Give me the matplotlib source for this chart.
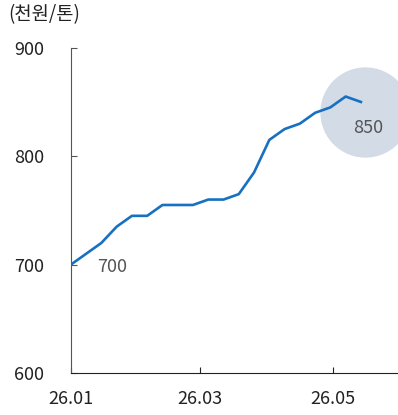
import matplotlib
matplotlib.use("Agg")
import matplotlib.pyplot as plt
import matplotlib.transforms as mtransforms
import pandas as pd

plt.rcParams["font.family"] = ["Noto Sans CJK KR", "DejaVu Sans"]

# weekly price series (천원/톤)
dates = pd.date_range("2026-01-01", periods=20, freq="7D")
prices = [700, 710, 720, 735, 745, 745, 755, 755, 755, 760,
          760, 765, 785, 815, 825, 830, 840, 845, 855, 850]
xtick_dates = pd.to_datetime(["2026-01-01", "2026-03-01", "2026-05-01"])
xtick_labels = ["26.01", "26.03", "26.05"]
yticks = [600, 700, 800, 900]
unit_label = "(천원/톤)"

fig = plt.figure(figsize=(3.98, 4.15), dpi=100)
ax = fig.add_axes([0.178, 0.101, 0.822, 0.784])

line_color = "#1770c2"
text_color = "#222222"
label_color = "#555555"

# highlight bubble around the latest value
bubble = mtransforms.offset_copy(ax.transData, fig=fig, x=4, y=-10, units="dots")
ax.plot([dates[-1]], [prices[-1]], marker="o", markersize=65, color="#d3dbe6",
        markeredgewidth=0, transform=bubble, clip_on=False, zorder=1)

ax.plot(dates, prices, color=line_color, linewidth=1.9, zorder=3,
        solid_joinstyle="round")

ax.annotate(f"{prices[0]}", (dates[0], prices[0]), xytext=(30, -2),
            textcoords="offset points", ha="center", va="center",
            fontsize=13, color=label_color)
ax.annotate(f"{prices[-1]}", (dates[-1], prices[-1]), xytext=(5, -19),
            textcoords="offset points", ha="center", va="center",
            fontsize=13, color=label_color, zorder=4)

ax.set_ylim(600, 900)
ax.set_yticks(yticks)
ax.set_xlim(pd.Timestamp("2026-01-01"), pd.Timestamp("2026-05-31"))
ax.set_xticks(xtick_dates)
ax.set_xticklabels(xtick_labels)

ax.spines["top"].set_visible(False)
ax.spines["right"].set_visible(False)
ax.spines["left"].set_color("#555555")
ax.spines["bottom"].set_color("#222222")
ax.tick_params(axis="y", direction="in", length=4, pad=19, labelsize=13,
               colors="#555555", labelcolor=text_color)
ax.tick_params(axis="x", direction="in", length=4, pad=12, labelsize=13,
               colors="#222222", labelcolor=text_color)

fig.text(0.02, 0.965, unit_label, ha="left", va="center", fontsize=13.5,
         color=text_color)

fig.savefig("out.png", dpi=100)
